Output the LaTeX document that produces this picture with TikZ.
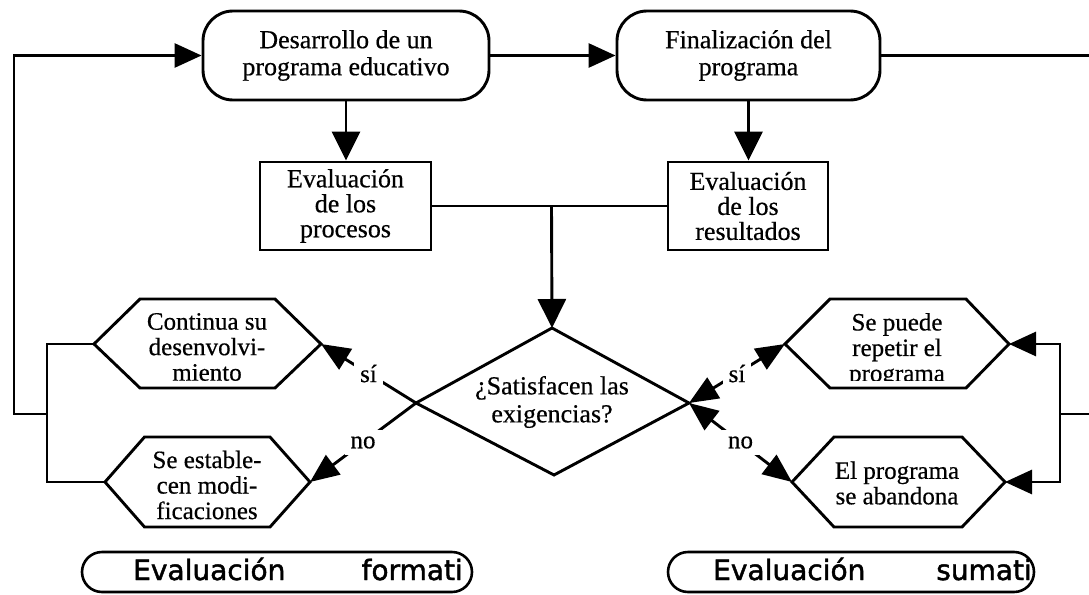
\documentclass[tikz,border=0pt]{standalone}
\usepackage{fontspec}
\setmainfont[FakeBold=0.5]{Liberation Serif}
\newfontfamily\pillfont[FakeBold=1.6]{DejaVu Sans}
\usetikzlibrary{arrows.meta}
\begin{document}
\begin{tikzpicture}[x=1pt,y=-1pt,
  ln/.style={line width=2.9pt, line join=miter},
  arrh/.style={ln, -{Triangle[length=27pt,width=24pt]}},
  arrv/.style={ln, -{Triangle[length=29pt,width=28pt]}},
  arrs/.style={ln, -{Triangle[length=29pt,width=24pt]}},
  arrb/.style={ln, {Triangle[length=29pt,width=24pt]}-{Triangle[length=29pt,width=24pt]}},
  txt/.style={font=\fontsize{26pt}{27pt}\selectfont, align=center, inner sep=0pt},
  rbox/.style={txt, draw, line width=2.9pt, rounded corners=30pt},
  sbox/.style={txt, draw, line width=2.9pt, font=\fontsize{26pt}{25pt}\selectfont},
  hexline/.style={ln},
  hextext/.style={txt, font=\fontsize{25pt}{25.5pt}\selectfont},
  lbl/.style={font=\fontsize{25pt}{25pt}\selectfont, fill=white, inner sep=6pt},
  pill/.style={draw, line width=2.6pt, rounded corners=20pt, inner sep=0pt},
  ptext/.style={font=\pillfont\fontsize{28pt}{28pt}\selectfont, inner sep=0pt}
]
\useasboundingbox (0,0) rectangle (1089,594);

% top boxes
\node[rbox, minimum width=286pt, minimum height=89pt] (des) at (346,55.5) {Desarrollo de un\\programa educativo};
\node[rbox, minimum width=263pt, minimum height=89pt] (fin) at (748.5,55.5) {Finalización del\\programa};

% evaluation boxes
\node[sbox, minimum width=171pt, minimum height=88pt] (pro) at (345.5,206) {Evaluación\\de los\\procesos};
\node[sbox, minimum width=160pt, minimum height=88pt] (res) at (748,206) {Evaluación\\de los\\resultados};

% diamond
\coordinate (dT) at (552,328);
\coordinate (dR) at (689,403);
\coordinate (dB) at (554,475);
\coordinate (dL) at (416,403);
\draw[ln] (dT) -- (dR) -- (dB) -- (dL) -- cycle;
\node[txt, font=\fontsize{26pt}{28pt}\selectfont] (dia) at (552,402) {¿Satisfacen las\\exigencias?};

% hexagons
\draw[hexline] (94,344) coordinate (h1L) -- (140,299) -- (275,299) -- (321,344) coordinate (h1R) -- (275,388) -- (140,388) -- cycle;
\node[hextext] (cont) at (207,347) {Continua su\\desenvolvi-\\miento};

\draw[hexline] (105,482) coordinate (h2L) -- (144.5,437) -- (270,437) -- (310,482) coordinate (h2R) -- (270,527) -- (144.5,527) -- cycle;
\node[hextext] (mod) at (207,485) {Se estable-\\cen modi-\\ficaciones};

\draw[hexline] (785,344) coordinate (h3L) -- (830,299) -- (966,299) -- (1009,344) coordinate (h3R) -- (966,388) -- (830,388) -- cycle;
\begin{scope}
  \clip (785,299) rectangle (1011,380);
  \node[hextext] (rep) at (897,350) {Se puede\\repetir el\\programa};
\end{scope}

\draw[hexline] (792,482) coordinate (h4L) -- (834,437) -- (962,437) -- (1005,482) coordinate (h4R) -- (962,527) -- (834,527) -- cycle;
\node[hextext] (aba) at (897,483) {El programa\\se abandona};

% top flow
\draw[arrh] (des.east) -- (fin.west);
\draw[arrv] (des.south) -- (des.south |- pro.north);
\draw[arrv] (fin.south) -- (fin.south |- res.north);
\draw[ln] (pro.east) -- (res.west);
\coordinate (j) at (551.5,206);
\draw[arrv] (j) -- (dT);

% decision branches
\draw[arrs] (dL) -- node[lbl] {sí} (h1R);
\draw[arrs] (dL) -- node[lbl] {no} (h2R);
\draw[arrb] (dR) -- node[lbl] {sí} (h3L);
\draw[arrb] (dR) -- node[lbl] {no} (h4L);

% left feedback loop
\coordinate (lj) at (47,414);
\draw[ln] (h1L) -| (47,482) -- (h2L);
\draw[arrh] (lj) -- (14,414) |- (des.west);

% right loop
\coordinate (rj) at (1060,414);
\draw[ln] (fin.east) -- (1090,55.5) |- (rj);
\draw[arrh] (rj) |- (h3R);
\draw[arrh] (rj) |- (h4R);

% bottom pills
\node[pill, minimum width=390pt, minimum height=40pt] (ef) at (277,572) {};
\node[ptext, anchor=base west] (ef1) at (133,580) {Evaluación};
\node[ptext, anchor=base east] (ef2) at (463,580) {formati};

\node[pill, minimum width=366pt, minimum height=40pt] (es) at (851,572) {};
\node[ptext, anchor=base west] (es1) at (713,580) {Evaluación};
\node[ptext, anchor=base east] (es2) at (1032,580) {sumati};
\end{tikzpicture}
\end{document}
